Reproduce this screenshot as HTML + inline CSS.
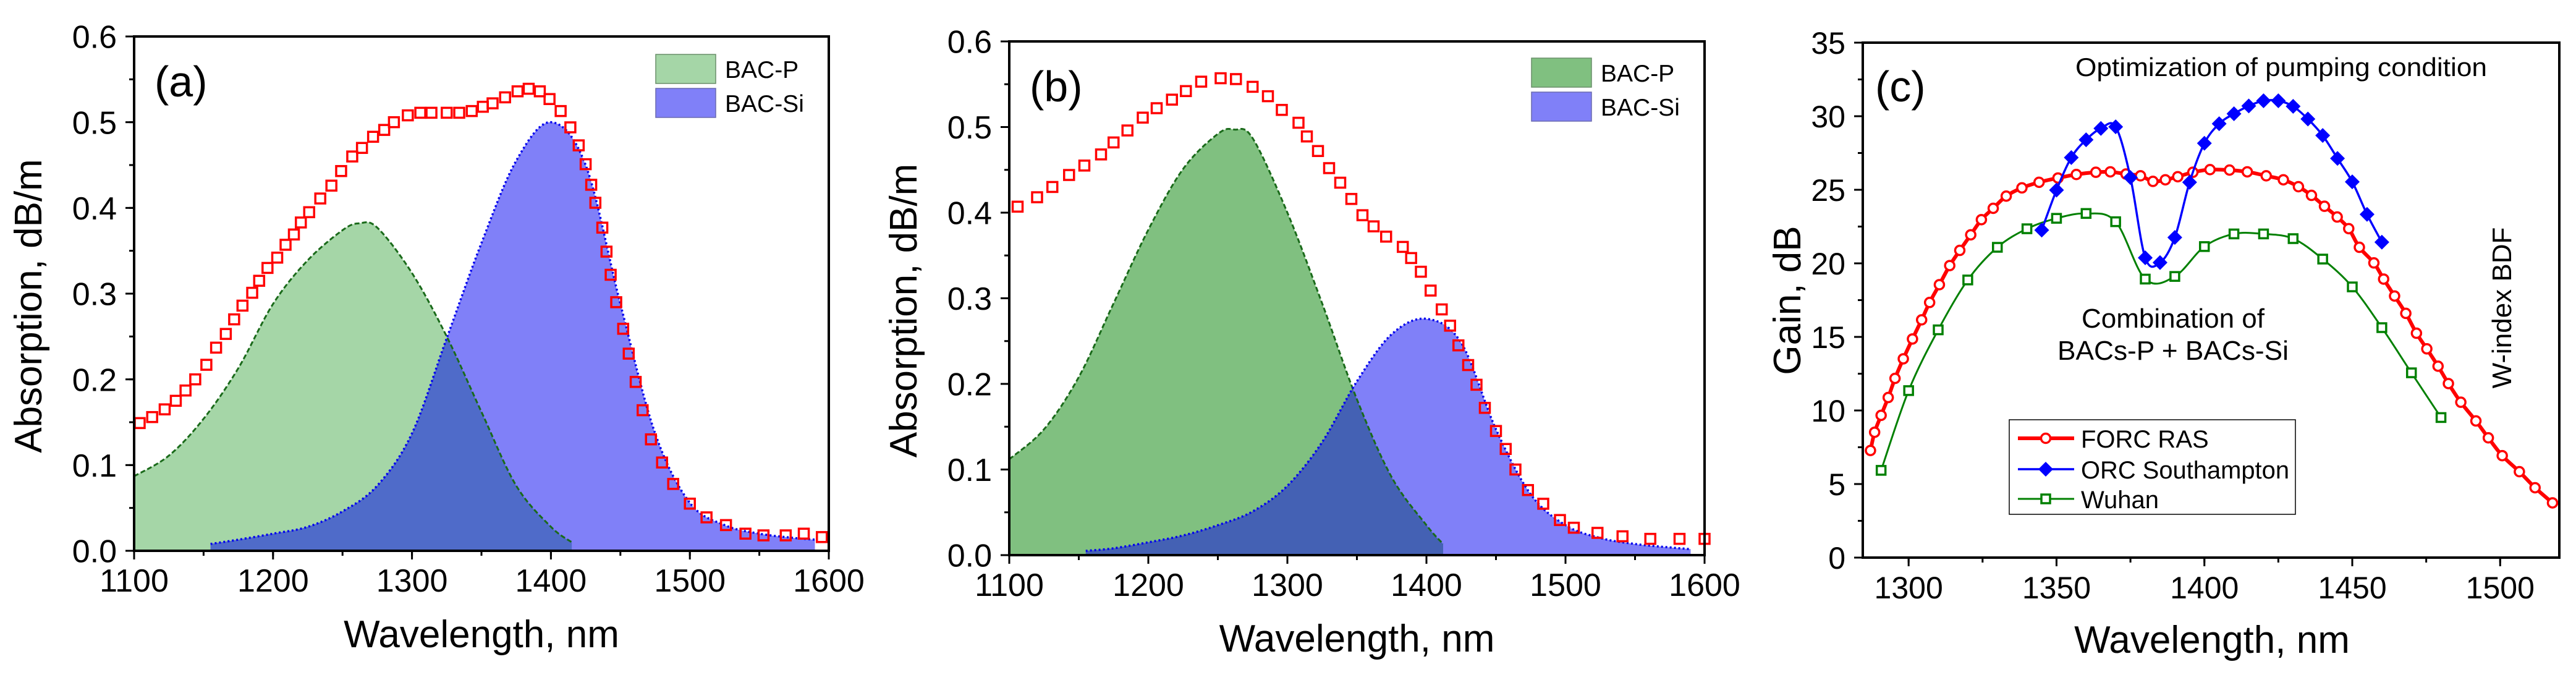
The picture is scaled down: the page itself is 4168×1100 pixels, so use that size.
<!DOCTYPE html>
<html><head><meta charset="utf-8"><style>
html,body{margin:0;padding:0;background:#fff;}
svg{display:block;font-family:"Liberation Sans",Arial,sans-serif;}
</style></head><body>
<svg id="fig" width="4168" height="1100" viewBox="0 0 4168 1100" xmlns="http://www.w3.org/2000/svg"></svg>
<script>
// ---------- Panel (a) data ----------
const aRedX = [1104,1113,1122,1130,1137,1144,1152,1159,1166,1172,1178,1185,1190,1196,1203,1209,1215,1220,1226,1234,1242,1249,1257,1264,1272,1280,1287,1297,1306,1314,1325,1334,1343,1351,1358,1367,1376,1384,1392,1399,1407,1414,1420,1425,1429,1432,1437,1440,1443,1447,1452,1456,1461,1466,1472,1480,1488,1500,1512,1526,1540,1553,1569,1582,1595];
const aRedY = [0.149,0.156,0.165,0.175,0.187,0.200,0.217,0.237,0.253,0.270,0.286,0.301,0.315,0.330,0.342,0.357,0.369,0.383,0.395,0.411,0.426,0.443,0.460,0.470,0.483,0.491,0.500,0.508,0.511,0.511,0.511,0.511,0.513,0.518,0.522,0.529,0.536,0.539,0.536,0.527,0.513,0.494,0.473,0.451,0.427,0.406,0.377,0.349,0.322,0.290,0.259,0.230,0.197,0.164,0.130,0.103,0.078,0.055,0.039,0.030,0.020,0.018,0.018,0.020,0.016];
const aGreenX = [1100,1125,1150,1175,1200,1225,1250,1262,1275,1300,1325,1350,1375,1400,1415];
const aGreenY = [0.087,0.111,0.154,0.213,0.288,0.339,0.374,0.382,0.377,0.324,0.250,0.162,0.076,0.028,0.010];
const aBlueX = [1155,1175,1200,1225,1250,1275,1300,1325,1350,1375,1400,1425,1450,1475,1500,1525,1550,1575,1590];
const aBlueY = [0.008,0.013,0.020,0.028,0.046,0.076,0.137,0.248,0.359,0.455,0.500,0.450,0.288,0.137,0.056,0.030,0.020,0.015,0.013];
// ---------- Panel (b) data ----------
const bRedX = [1106,1120,1131,1143,1154,1166,1175,1185,1196,1206,1217,1227,1238,1252,1263,1275,1286,1296,1308,1314,1322,1330,1338,1346,1354,1362,1371,1383,1389,1396,1403,1411,1417,1423,1430,1436,1442,1450,1457,1464,1473,1484,1496,1506,1523,1541,1561,1582,1600];
const bRedY = [0.407,0.418,0.430,0.444,0.455,0.468,0.482,0.496,0.511,0.522,0.532,0.542,0.553,0.557,0.556,0.547,0.536,0.520,0.505,0.489,0.472,0.452,0.435,0.416,0.397,0.384,0.372,0.360,0.347,0.331,0.309,0.287,0.268,0.245,0.222,0.199,0.172,0.145,0.124,0.100,0.076,0.060,0.041,0.032,0.026,0.022,0.019,0.019,0.019];
const bGreenX = [1100,1125,1150,1175,1200,1225,1250,1262,1275,1300,1325,1350,1375,1400,1412];
const bGreenY = [0.112,0.147,0.208,0.294,0.380,0.451,0.492,0.497,0.487,0.400,0.294,0.182,0.091,0.035,0.013];
const bBlueX = [1155,1175,1200,1225,1250,1275,1300,1325,1350,1375,1400,1425,1450,1475,1500,1525,1550,1575,1590];
const bBlueY = [0.005,0.008,0.015,0.023,0.035,0.051,0.081,0.132,0.203,0.258,0.276,0.248,0.147,0.071,0.035,0.020,0.013,0.009,0.007];
// ---------- Panel (c) data ----------
const forcX = [1287.1,1288.5,1290.7,1293.1,1295.4,1298.2,1301.3,1304.4,1307.1,1310.4,1313.9,1317.3,1321.0,1324.6,1328.6,1333.0,1338.3,1344.1,1350.5,1356.7,1363.3,1368.2,1373.5,1378.4,1382.6,1386.8,1391.0,1396.1,1401.9,1408.5,1414.5,1420.9,1426.7,1431.8,1436.2,1440.6,1444.9,1448.8,1452.4,1457.3,1460.6,1464.3,1468.1,1471.7,1475.2,1479.0,1482.5,1486.7,1491.8,1496.0,1500.7,1506.5,1511.8,1517.7];
const forcY = [7.28,8.52,9.67,10.88,12.18,13.51,14.86,16.16,17.34,18.55,19.85,20.88,21.94,22.97,23.74,24.57,25.13,25.51,25.80,26.04,26.19,26.22,26.07,25.95,25.57,25.68,25.89,26.19,26.37,26.34,26.22,25.95,25.68,25.21,24.62,23.88,23.15,22.36,21.09,20.03,18.93,17.78,16.60,15.25,14.19,13.01,11.83,10.56,9.29,8.14,6.93,5.84,4.75,3.72];
const orcX = [1345,1350,1355,1360,1365,1370,1375,1380,1385,1390,1395,1400,1405,1410,1415,1420,1425,1430,1435,1440,1445,1450,1455,1460];
const orcY = [22.26,24.98,27.19,28.40,29.17,29.28,25.83,20.38,20.05,21.76,25.51,28.16,29.49,30.17,30.70,31.05,31.05,30.67,29.81,28.69,27.13,25.54,23.33,21.44];
const wuhanX = [1290.7,1300,1310,1320,1330,1340,1350,1360,1370,1380,1390,1400,1410,1420,1430,1440,1450,1460,1470,1480];
const wuhanY = [5.93,11.35,15.48,18.87,21.09,22.35,23.06,23.39,22.83,18.93,19.11,21.14,22.0,22.0,21.68,20.29,18.40,15.63,12.56,9.52];
const absTicks = ['0.0','0.1','0.2','0.3','0.4','0.5','0.6'];
const wlTicks = ['1100','1200','1300','1400','1500','1600'];
const gainTicks = ['0','5','10','15','20','25','30','35'];
const cTicks = ['1300','1350','1400','1450','1500'];

const NS = 'http://www.w3.org/2000/svg';
const svg = document.getElementById('fig');
function mk(tag, attrs, parent) {
  const e = document.createElementNS(NS, tag);
  for (const k in attrs) e.setAttribute(k, attrs[k]);
  (parent || svg).appendChild(e);
  return e;
}
function txt(s, attrs, parent) { const t = mk('text', attrs, parent); t.textContent = s; return t; }
function smooth(pts) {
  if (pts.length < 2) return '';
  let d = 'M' + pts[0][0] + ',' + pts[0][1];
  for (let i = 0; i < pts.length - 1; i++) {
    const p0 = pts[i - 1] || pts[i], p1 = pts[i], p2 = pts[i + 1], p3 = pts[i + 2] || p2;
    const c1x = p1[0] + (p2[0] - p0[0]) / 6, c1y = p1[1] + (p2[1] - p0[1]) / 6;
    const c2x = p2[0] - (p3[0] - p1[0]) / 6, c2y = p2[1] - (p3[1] - p1[1]) / 6;
    d += ' C' + c1x + ',' + c1y + ' ' + c2x + ',' + c2y + ' ' + p2[0] + ',' + p2[1];
  }
  return d;
}
function makeAxes(P) {
  P.sx = v => P.x0 + (v - P.xmin) / (P.xmax - P.xmin) * (P.x1 - P.x0);
  P.sy = v => P.y0 - (v - P.ymin) / (P.ymax - P.ymin) * (P.y0 - P.y1);
}
function drawFrame(P, name, xt, yt, xminor, yminor, fs) {
  const g = mk('g', {});
  
  
  xt.forEach(s => {
    const v = +s, x = P.sx(v);
    mk('line', {x1: x, y1: P.y0, x2: x, y2: P.y0 + 14, stroke: '#000', 'stroke-width': 3}, g);
    const t = txt(s, {x: x, y: P.y0 + 66, 'font-size': fs, 'text-anchor': 'middle'}, g);
    
    
  });
  for (let v = +xt[0] - xminor; v <= P.xmax; v += xminor) { if (v < P.xmin) continue; const x = P.sx(v); mk('line', {x1: x, y1: P.y0, x2: x, y2: P.y0 + 8, stroke: '#000', 'stroke-width': 3}, g); }
  yt.forEach(s => {
    const v = +s, y = P.sy(v);
    mk('line', {x1: P.x0, y1: y, x2: P.x0 - 14, y2: y, stroke: '#000', 'stroke-width': 3}, g);
    const t = txt(s, {x: P.x0 - 28, y: y + fs * 0.36, 'font-size': fs, 'text-anchor': 'end'}, g);
    
    
  });
  for (let v = P.ymin + yminor; v < P.ymax; v += yminor) { const y = P.sy(v); mk('line', {x1: P.x0, y1: y, x2: P.x0 - 8, y2: y, stroke: '#000', 'stroke-width': 3}, g); }
  mk('rect', {x: P.x0, y: P.y1, width: P.x1 - P.x0, height: P.y0 - P.y1, fill: 'none', stroke: '#000', 'stroke-width': 4}, g);
}
function absPanel(P, name, redX, redY, gX, gY, bX, bY, gFill, ovFill, letter, legX, legY) {
  makeAxes(P);
  const clip = mk('clipPath', {id: 'clip' + name});
  mk('rect', {x: P.x0, y: P.y1, width: P.x1 - P.x0, height: P.y0 - P.y1}, clip);
  const cg = mk('g', {'clip-path': 'url(#clip' + name + ')'});
  const gp = gX.map((x, i) => [P.sx(x), P.sy(gY[i])]);
  const bp = bX.map((x, i) => [P.sx(x), P.sy(bY[i])]);
  const gD = smooth(gp) + ' L' + gp[gp.length - 1][0] + ',' + P.y0 + ' L' + gp[0][0] + ',' + P.y0 + ' Z';
  const bD = smooth(bp) + ' L' + bp[bp.length - 1][0] + ',' + P.y0 + ' L' + bp[0][0] + ',' + P.y0 + ' Z';
  const gArea = mk('path', {d: gD, fill: gFill}, cg);
  
  
  const bArea = mk('path', {d: bD, fill: '#8080f8'}, cg);
  
  
  const gclip = mk('clipPath', {id: 'gclip' + name});
  mk('path', {d: gD}, gclip);
  const oArea = mk('path', {d: bD, fill: ovFill, 'clip-path': 'url(#gclip' + name + ')'}, cg);
  
  
  const gl = mk('path', {d: smooth(gp), fill: 'none', stroke: '#1a6a1a', 'stroke-width': 3, 'stroke-dasharray': '8,4'}, cg);
  
  
  const bl = mk('path', {d: smooth(bp), fill: 'none', stroke: '#0000ee', 'stroke-width': 3.5, 'stroke-dasharray': '3,4'}, cg);
  
  
  const rg = mk('g', {});
  
  
  redX.forEach((x, i) => {
    const m = mk('rect', {x: P.sx(x) - 8, y: P.sy(redY[i]) - 8, width: 16, height: 16, fill: 'none', stroke: '#ff0000', 'stroke-width': 3.5}, rg);
    
    
  });
  drawFrame(P, name, wlTicks, absTicks, 50, 0.05, 52);
  const lab = txt(letter, {x: P.x0 + 33, y: P.y1 + 97, 'font-size': 70});
  
  
  const xtl = txt('Wavelength, nm', {x: (P.x0 + P.x1) / 2, y: P.y0 + 156, 'font-size': 62, 'text-anchor': 'middle'});
  
  
  const cy = (P.y0 + P.y1) / 2 + 20;
  const ytl = txt('Absorption, dB/m', {x: 0, y: 0, 'font-size': 62, 'text-anchor': 'middle', transform: 'translate(' + (P.x0 - 150) + ',' + cy + ') rotate(-90)'});
  
  
  const lg = mk('g', {});
  
  
  const s1 = mk('rect', {x: legX, y: legY, width: 97, height: 47, fill: gFill, stroke: '#6a8f6a', 'stroke-width': 1.5}, lg);
  
  
  const s2 = mk('rect', {x: legX, y: legY + 55, width: 97, height: 47, fill: '#8080f8', stroke: '#6a6ab0', 'stroke-width': 1.5}, lg);
  
  
  const t1 = txt('BAC-P', {x: legX + 112, y: legY + 38, 'font-size': 39}, lg);
  
  
  const t2 = txt('BAC-Si', {x: legX + 112, y: legY + 93, 'font-size': 39}, lg);
  
  
}
const PA = {x0: 217, x1: 1341, y0: 891, y1: 59, xmin: 1100, xmax: 1600, ymin: 0, ymax: 0.6};
const PB = {x0: 1633, x1: 2758, y0: 898, y1: 67, xmin: 1100, xmax: 1600, ymin: 0, ymax: 0.6};
absPanel(PA, 'panel-a', aRedX, aRedY, aGreenX, aGreenY, aBlueX, aBlueY, '#a5d6a7', '#4f6bc9', '(a)', 1061, 88);
absPanel(PB, 'panel-b', bRedX, bRedY, bGreenX, bGreenY, bBlueX, bBlueY, '#80c080', '#4461b4', '(b)', 2478, 94);

// ---------- Panel (c) ----------
const PC = {x0: 3014, x1: 4141, y0: 902, y1: 69, xmin: 1284.5, xmax: 1520, ymin: 0, ymax: 35};
makeAxes(PC);
const clipC = mk('clipPath', {id: 'clipC'});
mk('rect', {x: PC.x0, y: PC.y1, width: PC.x1 - PC.x0, height: PC.y0 - PC.y1}, clipC);
const cgc = mk('g', {'clip-path': 'url(#clipC)'});
function series(xs, ys, color, lw, name) {
  const g = mk('g', {}, cgc);
  
  
  const pts = xs.map((x, i) => [PC.sx(x), PC.sy(ys[i])]);
  mk('path', {d: smooth(pts), fill: 'none', stroke: color, 'stroke-width': lw}, g);
  return [g, pts];
}
const [wg, wp] = series(wuhanX, wuhanY, '#008000', 3, 'wuhan-series');
wp.forEach(p => { const m = mk('rect', {x: p[0] - 7, y: p[1] - 7, width: 14, height: 14, fill: '#fff', stroke: '#008000', 'stroke-width': 3.5}, wg);   });
const [fg, fp] = series(forcX, forcY, '#ff0000', 6, 'forc-ras-series');
fp.forEach(p => { const m = mk('circle', {cx: p[0], cy: p[1], r: 7.5, fill: '#fff', stroke: '#ff0000', 'stroke-width': 3.5}, fg);   });
const [og, op] = series(orcX, orcY, '#0000ff', 3.5, 'orc-southampton-series');
op.forEach(p => { const m = mk('path', {d: 'M' + p[0] + ',' + (p[1] - 12) + ' L' + (p[0] + 12) + ',' + p[1] + ' L' + p[0] + ',' + (p[1] + 12) + ' L' + (p[0] - 12) + ',' + p[1] + ' Z', fill: '#0000ff'}, og);   });
drawFrame(PC, 'panel-c', cTicks, gainTicks, 25, 2.5, 50);
const lc = txt('(c)', {x: PC.x0 + 20, y: PC.y1 + 95, 'font-size': 70});


const xtc = txt('Wavelength, nm', {x: 3579, y: 1056, 'font-size': 62, 'text-anchor': 'middle'});


const ytc = txt('Gain, dB', {x: 0, y: 0, 'font-size': 62, 'text-anchor': 'middle', transform: 'translate(2913,486) rotate(-90)'});


const a1 = txt('Optimization of pumping condition', {x: 3358, y: 123, 'font-size': 42, textLength: 666, lengthAdjust: 'spacingAndGlyphs'});


const a2 = txt('Combination of', {x: 3516, y: 530, 'font-size': 44, 'text-anchor': 'middle'});


const a3 = txt('BACs-P + BACs-Si', {x: 3516, y: 582, 'font-size': 44, 'text-anchor': 'middle', textLength: 374, lengthAdjust: 'spacingAndGlyphs'});


const a4 = txt('W-index BDF', {x: 0, y: 0, 'font-size': 44, 'text-anchor': 'middle', transform: 'translate(4063,498) rotate(-90)'});


const lgc = mk('g', {});


mk('rect', {x: 3251, y: 679, width: 463, height: 153, fill: '#fff', stroke: '#000', 'stroke-width': 1.5}, lgc);
const ents = [['FORC RAS', '#ff0000', 709, 'circle', 6, 0], ['ORC Southampton', '#0000ff', 759, 'diamond', 3.5, 337], ['Wuhan', '#008000', 807, 'square', 3, 0]];
ents.forEach(e => {
  const g = mk('g', {}, lgc);
  
  
  mk('line', {x1: 3265, y1: e[2], x2: 3356, y2: e[2], stroke: e[1], 'stroke-width': e[4]}, g);
  const cx = 3310, cy = e[2];
  if (e[3] === 'circle') mk('circle', {cx: cx, cy: cy, r: 7.5, fill: '#fff', stroke: e[1], 'stroke-width': 3.5}, g);
  else if (e[3] === 'diamond') mk('path', {d: 'M' + cx + ',' + (cy - 12) + ' L' + (cx + 12) + ',' + cy + ' L' + cx + ',' + (cy + 12) + ' L' + (cx - 12) + ',' + cy + ' Z', fill: e[1]}, g);
  else mk('rect', {x: cx - 7, y: cy - 7, width: 14, height: 14, fill: '#fff', stroke: e[1], 'stroke-width': 3.5}, g);
  const at = {x: 3367, y: e[2] + 15, 'font-size': 40};
  if (e[5]) { at.textLength = e[5]; at.lengthAdjust = 'spacingAndGlyphs'; }
  txt(e[0], at, g);
});
</script>
</body></html>
